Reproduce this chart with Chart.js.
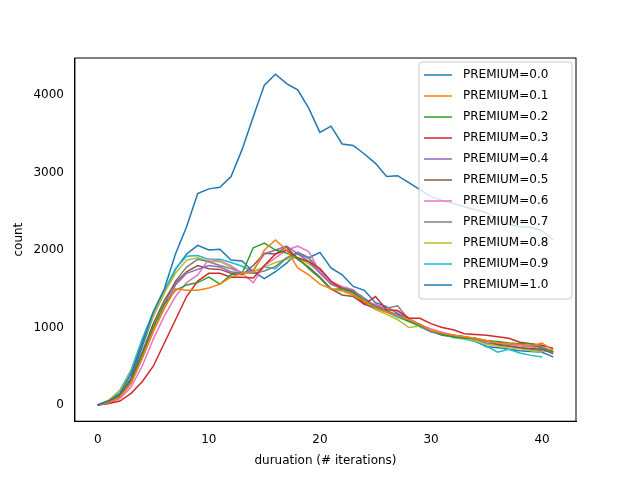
<!DOCTYPE html>
<html>
<head>
<script src="https://cdn.jsdelivr.net/npm/chart.js@4"></script>
<style>body{margin:0;background:#fff}#wrap{width:640px;height:480px}</style>
</head>
<body>
<div id="wrap"><canvas id="c" width="640" height="480"></canvas></div>
<script>
const labels = ["PREMIUM=0.0","PREMIUM=0.1","PREMIUM=0.2","PREMIUM=0.3","PREMIUM=0.4","PREMIUM=0.5","PREMIUM=0.6","PREMIUM=0.7","PREMIUM=0.8","PREMIUM=0.9","PREMIUM=1.0"];
const colors = ["#1f77b4","#ff7f0e","#2ca02c","#d62728","#9467bd","#8c564b","#e377c2","#7f7f7f","#bcbd22","#17becf","#1f77b4"];
const p00 = [0,50,150,400,800,1200,1500,1950,2300,2730,2790,2810,2950,3300,3720,4130,4270,4150,4070,3830,3520,3600,3370,3350,3240,3120,2950,2960,2870,2780,2690,2640,2600,2560,2520,2480,2400,2330,2300,2290,2250,2130];
const p01 = [0,30,100,280,600,950,1250,1500,1480,1480,1510,1560,1650,1700,1720,2000,2130,2000,1770,1680,1560,1500,1470,1420,1340,1250,1200,1150,1100,1040,960,930,900,880,860,830,800,790,780,760,800,700];
const p02 = [0,30,110,300,630,1000,1300,1480,1550,1580,1650,1560,1680,1700,2030,2090,2000,1960,1900,1760,1640,1490,1500,1450,1350,1260,1210,1150,1080,1030,960,910,880,860,860,830,820,800,790,790,730,690];
const p03 = [0,20,50,150,300,500,800,1100,1400,1600,1700,1700,1650,1650,1640,1800,1950,2000,1900,1850,1760,1600,1500,1460,1300,1400,1230,1220,1120,1120,1050,1000,970,920,910,900,880,860,810,790,770,730];
const p04 = [0,30,100,280,600,950,1250,1550,1700,1750,1800,1780,1720,1700,1740,1950,2000,2050,1950,1850,1700,1560,1510,1480,1340,1280,1220,1160,1080,1040,950,920,900,880,850,830,810,790,780,760,750,680];
const p05 = [0,40,130,330,680,1050,1350,1580,1720,1800,1760,1750,1700,1680,1800,1960,1950,2040,1880,1780,1650,1500,1420,1400,1300,1250,1200,1160,1080,1040,950,920,880,870,850,830,780,760,740,730,720,660];
const p06 = [0,20,80,230,500,850,1150,1400,1580,1680,1880,1860,1800,1700,1580,1800,1900,2000,2050,1980,1720,1590,1530,1490,1340,1300,1250,1200,1120,1040,980,940,900,880,860,820,800,780,760,750,720,680];
const p07 = [0,40,120,300,650,1000,1300,1600,1780,1880,1850,1800,1760,1710,1700,1730,1790,1900,1970,1900,1750,1580,1520,1480,1380,1280,1250,1280,1100,1020,950,930,900,880,850,800,780,760,740,720,700,690];
const p08 = [0,60,180,420,800,1150,1450,1700,1870,1900,1860,1850,1780,1700,1720,1780,1840,1880,1900,1820,1720,1560,1490,1420,1320,1230,1170,1100,1000,1020,950,920,880,860,830,780,760,740,730,700,680];
const p09 = [0,60,190,450,850,1200,1480,1760,1920,1930,1880,1880,1840,1790,1720,1780,1760,1900,1950,1890,1720,1580,1500,1440,1360,1270,1200,1130,1080,1010,940,920,870,850,820,760,680,720,670,640,620];
const p10 = [0,40,120,350,750,1150,1450,1750,1950,2060,2000,2010,1870,1860,1720,1630,1720,1830,1970,1900,1970,1770,1680,1530,1480,1320,1270,1180,1100,1020,950,900,880,860,820,750,740,720,700,690,680,620];
const series = [p00,p01,p02,p03,p04,p05,p06,p07,p08,p09,p10];
const xs = Array.from({length: 42}, (_, i) => i);

// frame + matplotlib style legend box in the top right corner
const boxLegend = {
  id: "boxLegend",
  afterDraw(chart) {
    const ctx = chart.ctx, a = chart.chartArea;
    ctx.save();
    ctx.strokeStyle = "#000";
    ctx.lineWidth = 1;
    ctx.strokeRect(a.left, a.top, a.right - a.left, a.bottom - a.top);
    const w = 153, h = 237, x0 = a.right - w - 4, y0 = a.top + 4;
    ctx.fillStyle = "rgba(255,255,255,0.8)";
    ctx.strokeStyle = "#ccc";
    ctx.beginPath();
    ctx.roundRect(x0, y0, w, h, 3);
    ctx.fill();
    ctx.stroke();
    ctx.font = "12px 'DejaVu Sans'";
    ctx.textBaseline = "middle";
    labels.forEach((l, i) => {
      const y = y0 + 13 + i * 21;
      ctx.strokeStyle = colors[i];
      ctx.lineWidth = 1.5;
      ctx.beginPath();
      ctx.moveTo(x0 + 5, y);
      ctx.lineTo(x0 + 33, y);
      ctx.stroke();
      ctx.fillStyle = "#000";
      ctx.fillText(l, x0 + 44, y);
    });
    ctx.restore();
  }
};

new Chart(document.getElementById("c"), {
  type: "line",
  data: {
    datasets: series.map((s, k) => ({
      label: labels[k],
      data: s.map((v, i) => ({x: xs[i], y: v})),
      borderColor: colors[k],
      backgroundColor: colors[k],
      borderWidth: 1.5,
      pointRadius: 0,
      tension: 0
    }))
  },
  options: {
    responsive: false,
    animation: false,
    layout: {padding: {left: 8, right: 64, top: 58, bottom: 8}},
    plugins: {
      legend: {display: false},
      tooltip: {enabled: false}
    },
    scales: {
      x: {
        type: "linear", min: -2.05, max: 43.05,
        title: {display: true, text: "duruation (# iterations)", color: "#000", font: {family: "DejaVu Sans", size: 12}},
        grid: {display: false},
        border: {color: "#000"},
        ticks: {color: "#000", font: {family: "DejaVu Sans", size: 12}, callback: v => v},
        afterBuildTicks: a => { a.ticks = [0,10,20,30,40].map(v => ({value: v})); }
      },
      y: {
        min: -210, max: 4480,
        title: {display: true, text: "count", color: "#000", font: {family: "DejaVu Sans", size: 12}},
        grid: {display: false},
        border: {color: "#000"},
        ticks: {color: "#000", font: {family: "DejaVu Sans", size: 12}, callback: v => v},
        afterBuildTicks: a => { a.ticks = [0,1000,2000,3000,4000].map(v => ({value: v})); }
      }
    }
  },
  plugins: [boxLegend]
});
</script>
</body>
</html>
